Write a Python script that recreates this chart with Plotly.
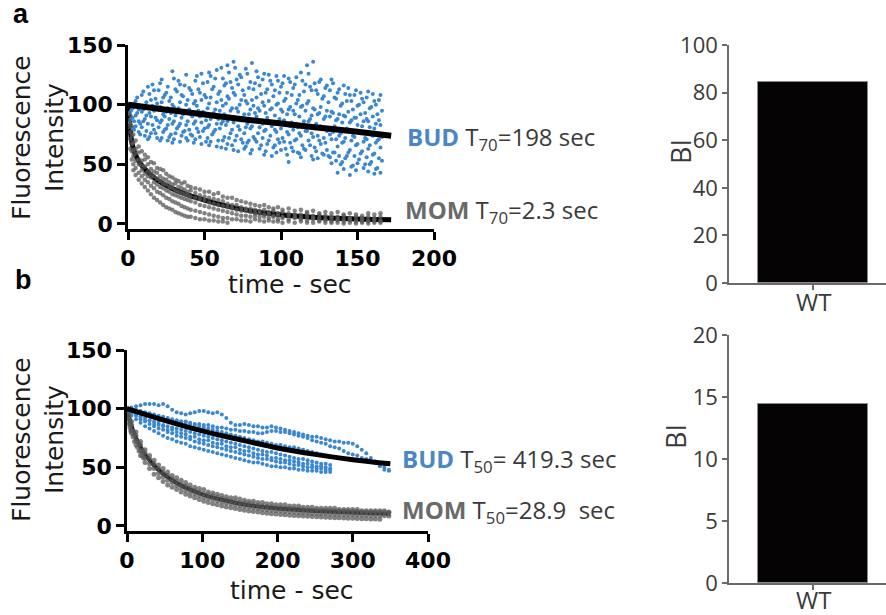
import plotly.graph_objects as go

# ---------------- Panel a : FLIP traces (0-200 s) ----------------
bud_a_t = [1, 3, 5, 7, 9, 11, 13, 15, 17, 19, 21, 23, 25, 27, 29, 31, 33, 35, 37, 39,
           41, 43, 45, 47, 49, 51, 53, 55, 57, 59, 61, 63, 65, 67, 69, 71, 73, 75, 77, 79,
           81, 83, 85, 87, 89, 91, 93, 95, 97, 99, 101, 103, 105, 107, 109, 111, 113, 115,
           117, 119, 121, 123, 125, 127, 129, 131, 133, 135, 137, 139, 141, 143, 145, 147,
           149, 151, 153, 155, 157, 159, 161, 163, 165, 166]
bud_a_v = [[100, 93, 85], [97, 89, 80], [103, 91, 82], [96, 86, 77], [108, 94, 81], [99, 88, 74],
           [115, 97, 84, 71], [104, 90, 76], [112, 95, 79], [101, 87, 72], [118, 98, 85, 70],
           [106, 92, 77], [110, 94, 80], [103, 88, 73], [128, 100, 84, 68], [113, 91, 76],
           [120, 97, 82], [108, 89, 74], [116, 95, 78], [104, 86, 70], [112, 92, 75],
           [101, 84, 68], [124, 99, 80], [110, 90, 73], [118, 94, 78], [106, 87, 69],
           [127, 101, 83, 66], [113, 91, 75], [122, 96, 79], [109, 88, 70], [131, 104, 84, 64],
           [116, 92, 73], [133, 107, 86, 67], [119, 95, 76], [136, 110, 85, 62], [121, 97, 74],
           [125, 100, 79], [112, 89, 68], [130, 103, 81, 65], [114, 92, 70], [135, 104, 82, 62],
           [118, 93, 71], [123, 97, 76], [109, 86, 66], [126, 99, 78, 58], [113, 89, 67],
           [120, 96, 74], [107, 85, 64], [124, 100, 77, 60], [110, 88, 68], [118, 94, 72],
           [105, 83, 63], [122, 96, 75, 52], [108, 85, 64], [117, 92, 70], [104, 81, 60],
           [127, 98, 74, 56], [111, 86, 63], [133, 101, 78], [115, 88, 66], [136, 97, 73, 54],
           [112, 84, 61], [119, 93, 70], [105, 80, 59], [114, 90, 68], [102, 79, 57],
           [121, 94, 71, 51], [106, 82, 60], [110, 88, 65, 43], [99, 76, 50], [116, 91, 69, 46],
           [103, 80, 57], [108, 85, 62, 41], [96, 74, 49], [112, 89, 66, 45], [100, 77, 54],
           [105, 82, 61], [93, 72, 50], [111, 86, 63, 44], [98, 75, 52], [103, 80, 59, 42],
           [92, 70, 47], [108, 83, 64, 43], [95, 73, 53]]
bud_a_t2 = [2, 4, 6, 8, 10, 12, 14, 16, 18, 20, 22, 24, 26, 28, 30, 32, 34, 36, 38, 40,
            42, 44, 46, 48, 50, 52, 54, 56, 58, 60, 62, 64, 66, 68, 70, 72, 74, 76, 78, 80,
            82, 84, 86, 88, 90, 92, 94, 96, 98, 100, 102, 104, 106, 108, 110, 112, 114, 116,
            118, 120, 122, 124, 126, 128, 130, 132, 134, 136, 138, 140, 142, 144, 146, 148,
            150, 152, 154, 156, 158, 160, 162, 164]
bud_a_v2 = [[95, 88], [101, 86, 79], [106, 93], [99, 84, 75], [111, 96, 86], [102, 91, 78],
            [109, 93, 73], [117, 99, 83], [105, 89, 76], [112, 96, 81], [121, 102, 87, 72],
            [108, 90, 79], [115, 97, 83, 70], [106, 93, 75], [122, 98, 86, 71], [111, 95, 80],
            [117, 102, 84, 69], [107, 92, 77], [125, 100, 83, 72], [114, 96, 79], [109, 90, 74],
            [120, 103, 86, 71], [113, 95, 77], [126, 104, 85, 67], [108, 93, 80], [119, 97, 81, 72],
            [124, 106, 88, 69], [115, 93, 77], [129, 102, 84, 65], [111, 95, 80], [122, 99, 86, 70],
            [118, 101, 83, 63], [127, 105, 90, 72], [114, 97, 79, 66], [131, 108, 88, 70],
            [117, 94, 82, 61], [123, 104, 87, 71], [108, 92, 76, 63], [126, 101, 84, 68],
            [119, 96, 80, 59], [113, 99, 87, 73], [128, 106, 90, 69], [116, 95, 81, 63],
            [121, 102, 84, 72], [110, 93, 79, 61], [125, 103, 86, 70], [117, 97, 82, 57],
            [112, 91, 79, 66], [120, 101, 84, 71], [115, 96, 80, 62], [124, 103, 87, 69],
            [110, 92, 77, 58], [119, 98, 82, 68], [114, 95, 79, 61], [123, 101, 84, 71],
            [108, 90, 76, 59], [120, 99, 81, 66], [117, 95, 78, 62], [126, 103, 86, 70],
            [112, 91, 76, 57], [118, 96, 80, 64], [109, 92, 74, 55], [121, 98, 82, 67],
            [107, 88, 72, 58], [116, 95, 78, 62], [112, 90, 75, 56], [118, 93, 77, 60],
            [105, 87, 71, 53], [113, 92, 74, 57], [101, 85, 68, 52], [109, 90, 72, 55],
            [114, 94, 78, 60], [103, 87, 70, 48], [108, 89, 73, 57], [99, 83, 67, 51],
            [110, 92, 76, 59], [102, 86, 69, 47], [106, 88, 71, 56], [97, 81, 66, 50],
            [109, 90, 74, 58], [100, 84, 68, 46], [104, 87, 71, 55]]

mom_a_t = [0.5, 1.5, 2.5, 3.5, 5, 7, 9, 11, 13, 15, 17, 19, 21, 23, 25, 27, 29, 31, 33, 35,
           37, 39, 41, 44, 47, 50, 53, 56, 59, 62, 65, 68, 71, 74, 77, 80, 83, 86, 89, 92,
           95, 98, 101, 105, 109, 113, 117, 121, 125, 129, 133, 137, 141, 145, 149, 153,
           157, 161, 165]
mom_a_v = [[99, 93, 87, 81], [91, 84, 77, 71, 63], [82, 74, 67, 61, 54], [75, 68, 62, 57, 50, 45],
           [70, 63, 59, 53, 47, 41], [65, 60, 54, 50, 43, 37], [61, 53, 49, 45, 40, 34],
           [58, 54, 48, 42, 37, 31], [56, 50, 44, 40, 35, 28], [52, 46, 42, 39, 32, 25],
           [51, 44, 40, 35, 30, 22], [47, 43, 38, 33, 27, 20], [46, 40, 36, 31, 26, 18],
           [45, 38, 34, 30, 24, 16], [42, 37, 33, 28, 22, 14], [40, 35, 31, 27, 21, 13],
           [39, 33, 30, 25, 19, 12], [37, 34, 28, 24, 18, 10], [36, 31, 27, 23, 17, 9],
           [34, 30, 26, 22, 15, 8], [35, 29, 25, 21, 14, 7], [32, 27, 24, 20, 13, 6],
           [31, 28, 23, 19, 12, 6], [30, 26, 22, 18, 11, 5], [29, 24, 21, 16, 10, 4],
           [27, 23, 20, 15, 9, 4], [27, 22, 18, 14, 8, 3], [25, 21, 17, 13, 7, 3],
           [26, 20, 16, 12, 6, 2], [23, 19, 15, 11, 5, 2], [22, 17, 14, 10, 5, 1],
           [22, 16, 13, 9, 4], [20, 16, 12, 8, 4], [19, 14, 11, 7, 3], [18, 13, 11, 7, 3],
           [17, 13, 10, 6, 2], [16, 12, 9, 7, 4], [15, 11, 9, 6, 3], [16, 12, 8, 6, 2],
           [14, 10, 8, 5, 3], [13, 11, 7, 6, 2], [14, 9, 7, 4, 2], [12, 10, 6, 5, 1],
           [13, 9, 7, 4, 2], [11, 8, 6, 5, 1], [12, 8, 5, 4, 2], [10, 9, 6, 3, 1],
           [11, 7, 5, 4, 1], [9, 8, 5, 3, 2], [10, 7, 4, 3, 1], [9, 6, 5, 2, 1],
           [10, 6, 4, 3, 1], [8, 7, 4, 2, 0.5], [9, 5, 4, 3, 1], [8, 6, 3, 2, 0.5],
           [7, 5, 4, 2, 1], [9, 6, 3, 2, 0.5], [8, 5, 4, 2, 1], [9, 6, 3, 2, 1]]

fit_a_bud_t = [0, 25, 50, 75, 100, 125, 150, 172]
fit_a_bud = [100, 95.8, 91.7, 87.8, 84.2, 80.7, 77.3, 74]
fit_a_mom_t = [0, 1, 2.3, 4, 6, 10, 15, 20, 30, 40, 50, 60, 70, 85, 100, 120, 140, 160, 172]
fit_a_mom = [100, 85, 70, 61, 55, 47.5, 41, 36, 29, 24, 20, 16.5, 13.5, 10, 7.7, 5.7, 4.5, 3.8, 3.5]

# ---------------- Panel b : FLIP traces (0-400 s) ----------------
tb = [0, 6, 12, 18, 24, 30, 36, 42, 48, 54, 60, 66, 72, 78, 84, 90, 96, 102, 108, 114,
      120, 126, 132, 138, 144, 150, 156, 162, 168, 174, 180, 186, 192, 198, 204, 210, 216,
      222, 228, 234, 240, 246, 252, 258, 264, 270, 276, 282, 288, 294, 300, 306, 312, 318,
      324, 330, 336, 342, 348]
bud_b_1 = [100, 101, 102, 103, 104, 104, 104, 103, 104, 102, 99, 97, 96, 95, 96, 97, 98, 98, 97, 96,
           97, 95, 92, 88, 86, 86, 87, 86, 85, 85, 84, 84, 85, 84, 83, 82, 81, 80, 79, 78,
           77, 76, 76, 75, 74, 73, 72, 72, 71, 71, 70, 68, 65, 62, 58, 55, 51, 48, 47]
bud_b_2 = [100, 99, 98, 97, 96, 95, 93, 92, 91, 91, 90, 90, 89, 89, 88, 87, 87, 86, 86, 85,
           84, 84, 83, 82, 82, 81, 81, 80, 80, 79, 79, 80, 81, 81, 80, 80, 79, 78, 77, 76,
           75, 73, 72, 71, 70, 68, 67, 66, 64, 62, 61, 60, 58, 57, 55, 54, 52, 50, 48]
bud_b_3 = [100, 100, 99, 98, 97, 96, 95, 94, 93, 92, 91, 90, 89, 88, 87, 86, 85, 84, 83, 82,
           81, 80, 79, 78, 77, 76, 75, 74, 73, 72, 72, 71, 70, 69, 69, 68, 67, 67, 66, 65,
           64, 63, 62, 61, 60, 59]
bud_b_4 = [99, 97, 95, 93, 92, 90, 89, 88, 86, 85, 84, 83, 82, 81, 80, 79, 78, 77, 76, 75,
           74, 73, 72, 71, 70, 69, 68, 67, 66, 65, 64, 63, 63, 62, 61, 60, 59, 58, 57, 57,
           56, 55, 54, 53, 53, 52]
bud_b_5 = [98, 96, 94, 91, 89, 87, 85, 83, 82, 80, 79, 77, 76, 75, 74, 72, 71, 70, 69, 68,
           67, 66, 65, 64, 63, 62, 61, 60, 59, 58, 57, 57, 56, 55, 54, 54, 53, 52, 52, 51,
           50, 50, 49, 49, 48, 48]
bud_b_6 = [97, 94, 91, 88, 85, 83, 81, 79, 77, 75, 74, 72, 71, 70, 68, 67, 66, 65, 64, 63,
           62, 61, 60, 59, 58, 57, 56, 55, 54, 54, 53, 52, 51, 51, 50, 50, 49, 49, 48, 48,
           47, 47, 47, 46, 46, 46]
bud_b_7 = [99, 96, 96, 93, 90, 90, 87, 86, 85, 82, 82, 80, 79, 78, 76, 76, 74, 73, 73, 71,
           70, 70, 68, 67, 67, 65, 64, 64, 62, 61, 61, 60, 58, 58, 57, 56, 56, 55, 54, 53,
           53, 52, 51, 51, 50, 49]

mom_b_1 = [100, 89, 80, 72, 65, 60, 56, 52, 49, 46, 43, 41, 39, 37, 35, 33, 32, 31, 29, 28,
           27, 26, 25, 24, 24, 23, 22, 21, 21, 20, 20, 19, 19, 18, 18, 18, 17, 17, 17, 16,
           16, 16, 15, 15, 15, 15, 15, 14, 14, 14, 14, 14, 13, 13, 13, 13, 13, 13, 12]
mom_b_2 = [100, 86, 77, 69, 62, 57, 53, 49, 45.5, 43, 40, 38, 35.5, 34, 32, 30.5, 29, 27.5, 26.5, 25.5,
           24.5, 23.5, 22.5, 21.5, 21, 20, 19.5, 19, 18.2, 17.6, 17, 16.6, 16.2, 15.8, 15.5, 15.2, 15,
           14.6, 14.4, 14.1, 13.9, 13.7, 13.6, 13.4, 13.2, 13.1, 12.9, 12.8, 12.7, 12.5, 12.4, 12.3,
           12.1, 12, 11.9, 11.8, 11.7, 11.5, 11.4]
mom_b_3 = [99, 82, 73, 64, 58, 53, 49, 45, 42, 39, 37, 34.5, 32.5, 30.5, 29, 27.5, 26, 24.5, 23.5, 22.5,
           21.5, 20.5, 19.5, 19, 18, 17.2, 16.5, 16, 15.4, 14.8, 14.3, 13.8, 13.4, 13, 12.7, 12.4,
           12.1, 11.8, 11.5, 11.3, 11.1, 10.9, 10.7, 10.5, 10.4, 10.2, 10, 9.9, 9.8, 9.6, 9.5, 9.4,
           9.2, 9.1, 9, 8.9, 8.8, 8.6, 8.5]
mom_b_4 = [98, 79, 69, 60, 54, 49, 44, 41, 38, 35, 33, 31, 29, 27, 25.5, 24, 22.5, 21, 20, 19,
           18, 17, 16.2, 15.5, 14.8, 14, 13.4, 12.8, 12.3, 11.8, 11.3, 10.9, 10.5, 10.1, 9.8, 9.5,
           9.2, 8.9, 8.6, 8.4, 8.2, 8, 7.8, 7.6, 7.4, 7.2, 7.1, 6.9, 6.8, 6.6, 6.5, 6.4, 6.2, 6.1,
           6, 5.9, 5.8]
mom_b_early_t = [1, 2, 3, 4, 5, 8, 10, 14, 16, 20, 22]
mom_b_early_1 = [97, 94, 91, 88, 86, 81, 78, 72, 70, 65, 63]
mom_b_early_2 = [95, 91, 87, 84, 81, 76, 72, 67, 64, 60, 58]

fit_b_bud_t = [0, 50, 100, 150, 200, 250, 300, 350]
fit_b_bud = [100, 90, 81, 73.5, 66.5, 61, 56.5, 53]
fit_b_mom_t = [0, 5, 10, 20, 30, 40, 50, 60, 75, 100, 125, 150, 175, 200, 250, 300, 350]
fit_b_mom = [100, 87, 78, 65, 56, 49, 43.5, 39, 33.5, 27, 22.5, 19, 16.5, 14.8, 12.8, 11.5, 10.5]

# ---------------- Bar panels ----------------
bar_cats = ["WT"]
bar_a_vals = [84.5]
bar_b_vals = [14.4]

BLUE = "#3b88d0"
GRAY = "#595959"
TXT = "#3a3a3a"


def flatten(times, cols):
    xs, ys = [], []
    for t, col in zip(times, cols):
        for v in col:
            xs.append(t)
            ys.append(v)
    return xs, ys


def traces_xy(times, *series):
    xs, ys = [], []
    for s in series:
        for t, v in zip(times, s):
            xs.append(t)
            ys.append(v)
    return xs, ys


fig = go.Figure()

# ---- panel a ----
fig.add_trace(go.Scatter(x=fit_a_mom_t, y=fit_a_mom, mode="lines",
                         line=dict(color="black", width=5, shape="spline", smoothing=0.6),
                         xaxis="x", yaxis="y", showlegend=False))
bx1, by1 = flatten(bud_a_t, bud_a_v)
bx2_, by2_ = flatten(bud_a_t2, bud_a_v2)
fig.add_trace(go.Scatter(x=bx1 + bx2_, y=by1 + by2_, mode="markers", marker=dict(color=BLUE, size=4),
                         xaxis="x", yaxis="y", showlegend=False))
mx, my = flatten(mom_a_t, mom_a_v)
fig.add_trace(go.Scatter(x=mx, y=my, mode="markers", marker=dict(color=GRAY, size=4.5, opacity=0.75),
                         xaxis="x", yaxis="y", showlegend=False))
fig.add_trace(go.Scatter(x=fit_a_bud_t, y=fit_a_bud, mode="lines", line=dict(color="black", width=6, shape="spline"),
                         xaxis="x", yaxis="y", showlegend=False))

# ---- panel b ----
fig.add_trace(go.Scatter(x=fit_b_mom_t, y=fit_b_mom, mode="lines",
                         line=dict(color="black", width=4, shape="spline", smoothing=0.6),
                         xaxis="x2", yaxis="y2", showlegend=False))
bbx, bby = traces_xy(tb, bud_b_1, bud_b_2, bud_b_3, bud_b_4, bud_b_5, bud_b_6, bud_b_7)
fig.add_trace(go.Scatter(x=bbx, y=bby, mode="markers", marker=dict(color=BLUE, size=4),
                         xaxis="x2", yaxis="y2", showlegend=False))
mx2, my2 = traces_xy(tb, mom_b_1, mom_b_2, mom_b_3, mom_b_4)
ex, ey = traces_xy(mom_b_early_t, mom_b_early_1, mom_b_early_2)
fig.add_trace(go.Scatter(x=mx2 + ex, y=my2 + ey, mode="markers", marker=dict(color=GRAY, size=5, opacity=0.75),
                         xaxis="x2", yaxis="y2", showlegend=False))
fig.add_trace(go.Scatter(x=fit_b_bud_t, y=fit_b_bud, mode="lines", line=dict(color="black", width=5, shape="spline"),
                         xaxis="x2", yaxis="y2", showlegend=False))

# ---- bars ----
for vals, xa, ya in ((bar_a_vals, "x3", "y3"), (bar_b_vals, "x4", "y4")):
    fig.add_trace(go.Bar(x=bar_cats, y=vals, width=0.7,
                         marker=dict(color="#050303", line=dict(color="#8a8a8a", width=1)),
                         xaxis=xa, yaxis=ya, showlegend=False))

W, H = 886, 615


def px_x(p):
    return p / W


def px_y(p):
    return 1 - p / H


sc_axis = dict(showline=True, linecolor="black", linewidth=2.5, ticks="outside", ticklen=8, tickwidth=2.5,
               tickcolor="black", showgrid=False, zeroline=False, automargin=False,
               tickfont=dict(family="DejaVu Sans", size=22, color="black", weight="bold"))
bar_axis = dict(showline=True, linecolor="#6a6a6a", linewidth=1.5, ticks="outside", ticklen=5, tickwidth=1.5,
                tickcolor="#6a6a6a", showgrid=False, zeroline=False, automargin=False,
                tickfont=dict(family="Open Sans", size=22, color=TXT))

layout = dict(
    width=W, height=H, margin=dict(l=0, r=0, t=0, b=0, pad=0), autosize=False,
    paper_bgcolor="white", plot_bgcolor="white",
    xaxis=dict(sc_axis, domain=[px_x(128), px_x(434)], range=[0, 200], tickvals=[0, 50, 100, 150, 200], anchor="y"),
    yaxis=dict(sc_axis, domain=[px_y(229), px_y(45)], range=[-4.2, 150], tickvals=[0, 50, 100, 150], anchor="x"),
    xaxis2=dict(sc_axis, domain=[px_x(127), px_x(428)], range=[0, 400], tickvals=[0, 100, 200, 300, 400], anchor="y2"),
    yaxis2=dict(sc_axis, domain=[px_y(531), px_y(350)], range=[-4.3, 150], tickvals=[0, 50, 100, 150], anchor="x2"),
    xaxis3=dict(bar_axis, domain=[px_x(729), 1], range=[-0.535, 0.465], anchor="y3", showticklabels=False),
    yaxis3=dict(bar_axis, domain=[px_y(283), px_y(45)], range=[0, 100], tickvals=[0, 20, 40, 60, 80, 100], anchor="x3"),
    xaxis4=dict(bar_axis, domain=[px_x(729), 1], range=[-0.535, 0.465], anchor="y4", showticklabels=False),
    yaxis4=dict(bar_axis, domain=[px_y(583), px_y(335)], range=[0, 20], tickvals=[0, 5, 10, 15, 20], anchor="x4"),
    bargap=0,
)
fig.update_layout(**layout)

ann = []
title_font = dict(family="DejaVu Sans", size=25, color="#1a1a1a")
lab_font = dict(family="Open Sans", size=24, color=TXT)
for yc in (138, 440):
    ann.append(dict(text="Fluorescence<br>Intensity", x=px_x(38), y=px_y(yc), xref="paper", yref="paper",
                    textangle=-90, showarrow=False, font=title_font, xanchor="center", yanchor="middle"))
ann.append(dict(text="time - sec", x=px_x(290), y=px_y(284), xref="paper", yref="paper", showarrow=False,
                font=title_font, xanchor="center", yanchor="middle"))
ann.append(dict(text="time - sec", x=px_x(292), y=px_y(590), xref="paper", yref="paper", showarrow=False,
                font=title_font, xanchor="center", yanchor="middle"))
ann.append(dict(text="<b>a</b>", x=px_x(21), y=px_y(14), xref="paper", yref="paper", showarrow=False,
                font=dict(family="Liberation Sans", size=27, color="black"), xanchor="center", yanchor="middle"))
ann.append(dict(text="<b>b</b>", x=px_x(23), y=px_y(280), xref="paper", yref="paper", showarrow=False,
                font=dict(family="Liberation Sans", size=27, color="black"), xanchor="center", yanchor="middle"))

labels = [
    (405, 138, "<b><span style='color:#4a86c8'>BUD</span></b> T<sub>70</sub>=198 sec"),
    (403, 211, "<b><span style='color:#6a6a6a'>MOM</span></b> T<sub>70</sub>=2.3 sec"),
    (400, 460, "<b><span style='color:#4a86c8'>BUD</span></b> T<sub>50</sub>= 419.3 sec"),
    (400, 511, "<b><span style='color:#6a6a6a'>MOM</span></b> T<sub>50</sub>=28.9  sec"),
]
for xp, yp, t in labels:
    ann.append(dict(text=t, x=px_x(xp), y=px_y(yp), xref="paper", yref="paper", showarrow=False,
                    font=lab_font, xanchor="left", yanchor="middle"))

ann.append(dict(text="BI", x=px_x(680), y=px_y(152), xref="paper", yref="paper", textangle=-90, showarrow=False,
                font=dict(family="Open Sans", size=27, color=TXT), xanchor="center", yanchor="middle"))
ann.append(dict(text="BI", x=px_x(675), y=px_y(437), xref="paper", yref="paper", textangle=-90, showarrow=False,
                font=dict(family="Open Sans", size=27, color=TXT), xanchor="center", yanchor="middle"))
# category labels under the bars (placed at the category position on each bar x-axis)
ann.append(dict(text=bar_cats[0], x=bar_cats[0], xref="x3", y=px_y(302), yref="paper", showarrow=False,
                font=dict(family="Open Sans", size=24, color=TXT), xanchor="center", yanchor="middle"))
ann.append(dict(text=bar_cats[0], x=bar_cats[0], xref="x4", y=px_y(599), yref="paper", showarrow=False,
                font=dict(family="Open Sans", size=24, color=TXT), xanchor="center", yanchor="middle"))
fig.update_layout(annotations=ann)

fig.write_html("out.html", config={"displayModeBar": False},
               post_script="document.body.style.margin='0px';document.body.style.overflow='hidden';")
